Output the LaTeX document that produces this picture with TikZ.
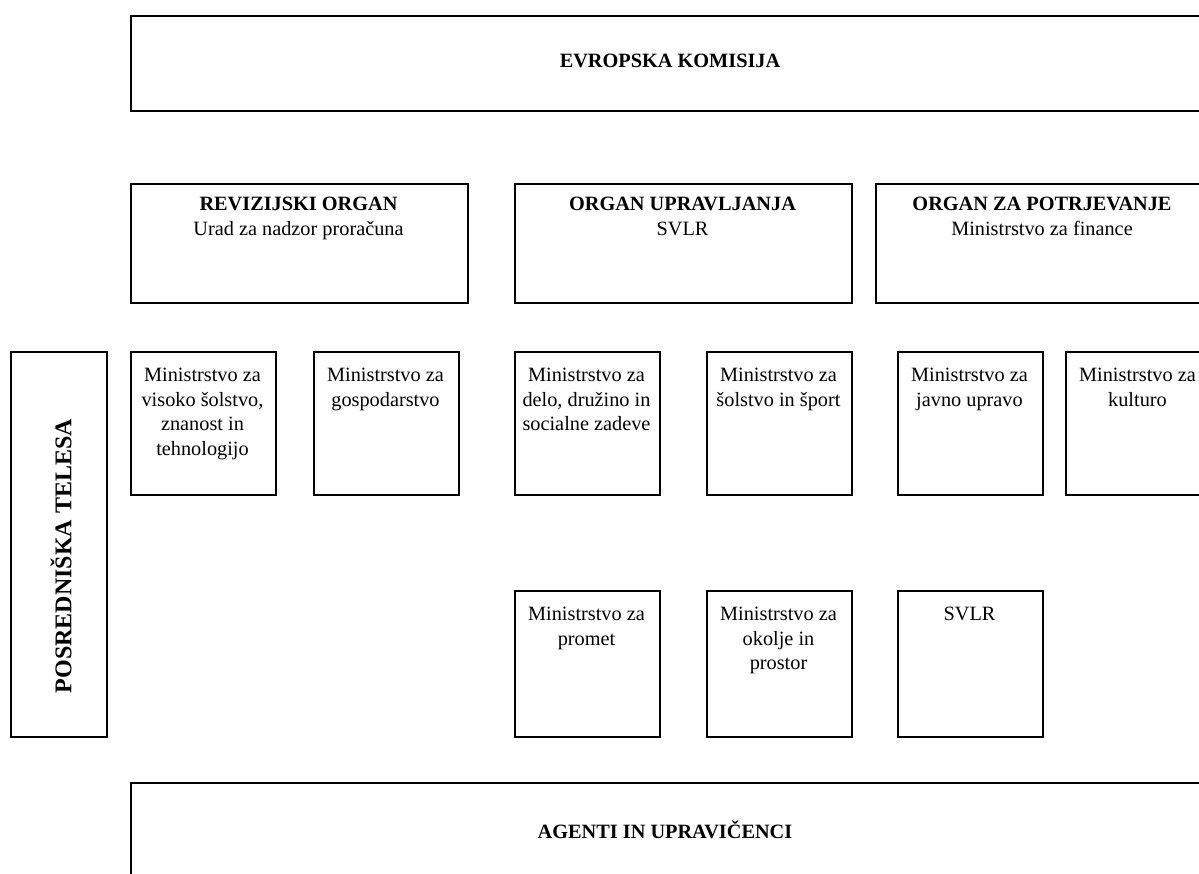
\documentclass[tikz,border=0pt]{standalone}
\usepackage{fontspec}
\setmainfont{Liberation Serif}
\begin{document}
\begin{tikzpicture}[x=1pt,y=-1pt,
  box/.style={draw, line width=1.6pt, inner sep=0pt, anchor=north west},
  txt/.style={anchor=north, align=center, inner sep=0pt, font=\fontsize{20.3}{24.6}\selectfont},
  ttl/.style={anchor=center, align=center, inner sep=0pt, font=\fontsize{20.3}{24.6}\selectfont\bfseries}]
\useasboundingbox (0,0) rectangle (1199,874);
\clip (0,0) rectangle (1199,874);
% top
\node[box, minimum width=1120pt, minimum height=95pt] (ek) at (130,15) {};
\node[ttl] (ekt) at (670,61) {EVROPSKA KOMISIJA};
% organs
\node[box, minimum width=337pt, minimum height=119pt] (rev) at (130,183) {};
\node[txt] (revt) at (298.5,197) {\textbf{REVIZIJSKI ORGAN}\\Urad za nadzor proračuna};
\node[box, minimum width=337pt, minimum height=119pt] (ou) at (514,183) {};
\node[txt] (out) at (682.5,197) {\textbf{ORGAN UPRAVLJANJA}\\SVLR};
\node[box, minimum width=337pt, minimum height=119pt] (op) at (875,183) {};
\node[txt] (opt) at (1042,197) {\textbf{ORGAN ZA POTRJEVANJE}\\Ministrstvo za finance};
% posredniska
\node[box, minimum width=96pt, minimum height=385pt] (pt) at (10,351) {};
\node[ttl, rotate=90, font=\fontsize{24}{28}\selectfont\bfseries] (ptt) at (61,556) {POSREDNIŠKA TELESA};
% row 1
\node[box, minimum width=145pt, minimum height=143pt] (m1) at (130,351) {};
\node[txt] (m1t) at (202.5,368) {Ministrstvo za\\visoko šolstvo,\\znanost in\\tehnologijo};
\node[box, minimum width=145pt, minimum height=143pt] (m2) at (313,351) {};
\node[txt] (m2t) at (385.5,368) {Ministrstvo za\\gospodarstvo};
\node[box, minimum width=145pt, minimum height=143pt] (m3) at (514,351) {};
\node[txt] (m3t) at (586.5,368) {Ministrstvo za\\delo, družino in\\socialne zadeve};
\node[box, minimum width=145pt, minimum height=143pt] (m4) at (706,351) {};
\node[txt] (m4t) at (778.5,368) {Ministrstvo za\\šolstvo in šport};
\node[box, minimum width=145pt, minimum height=143pt] (m5) at (897,351) {};
\node[txt] (m5t) at (969.5,368) {Ministrstvo za\\javno upravo};
\node[box, minimum width=145pt, minimum height=143pt] (m6) at (1065,351) {};
\node[txt] (m6t) at (1137.5,368) {Ministrstvo za\\kulturo};
% row 2
\node[box, minimum width=145pt, minimum height=146pt] (m7) at (514,590) {};
\node[txt] (m7t) at (586.5,607) {Ministrstvo za\\promet};
\node[box, minimum width=145pt, minimum height=146pt] (m8) at (706,590) {};
\node[txt] (m8t) at (778.5,607) {Ministrstvo za\\okolje in\\prostor};
\node[box, minimum width=145pt, minimum height=146pt] (m9) at (897,590) {};
\node[txt] (m9t) at (969.5,607) {SVLR};
% bottom
\node[box, minimum width=1120pt, minimum height=120pt] (ag) at (130,782) {};
\node[ttl] (agt) at (665,830) {AGENTI IN UPRAVIČENCI};
\end{tikzpicture}
\end{document}
